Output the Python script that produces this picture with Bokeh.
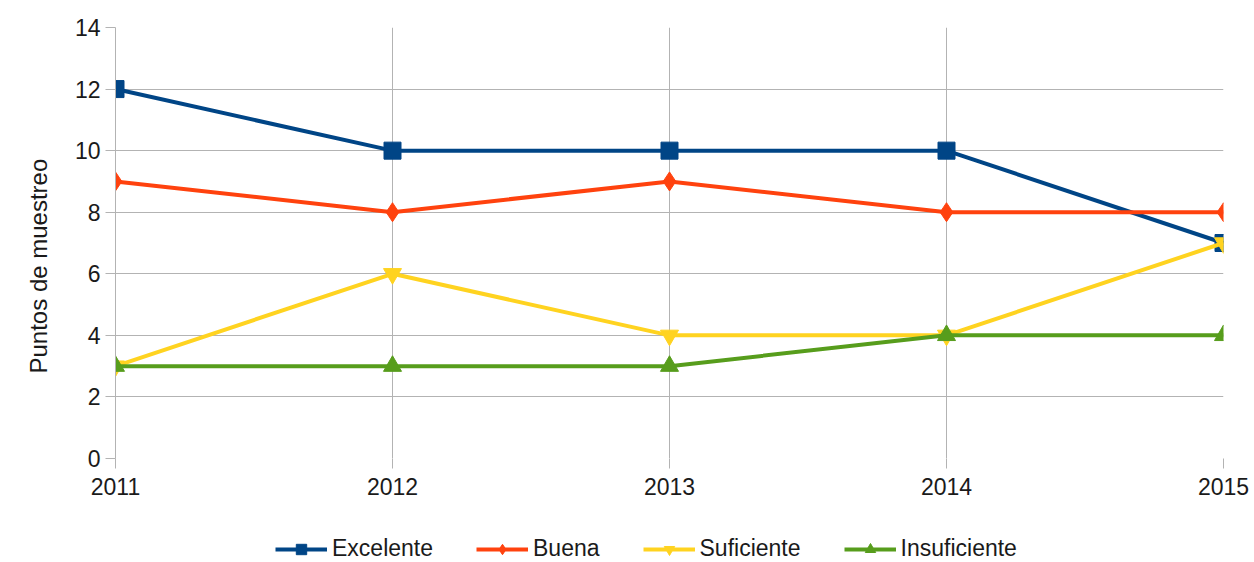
from bokeh.plotting import figure
from bokeh.models import Legend, LegendItem, FixedTicker, Range1d, Title
from bokeh.layouts import column
from bokeh.embed import file_html
from bokeh.resources import INLINE

years = [2011, 2012, 2013, 2014, 2015]
excelente = [12, 10, 10, 10, 7]
buena = [9, 8, 9, 8, 8]
suficiente = [3, 6, 4, 4, 7]
insuficiente = [3, 3, 3, 4, 4]
y_ticks = [0, 2, 4, 6, 8, 10, 12, 14]

FONT = "Liberation Sans"
GRID = "#b3b3b3"
TXT = "#1a1a1a"

p = figure(width=1254, height=530, output_backend="svg", toolbar_location=None,
           x_range=Range1d(2011, 2015), y_range=Range1d(0, 14),
           min_border_left=115, min_border_right=31, min_border_top=27, min_border_bottom=72)
p.outline_line_color = None
p.background_fill_color = "white"

p.xaxis.ticker = FixedTicker(ticks=years)
p.yaxis.ticker = FixedTicker(ticks=y_ticks)
for ax in (p.xaxis[0], p.yaxis[0]):
    ax.axis_line_color = GRID
    ax.major_tick_line_color = GRID
    ax.major_tick_out = 10
    ax.major_tick_in = 0
    ax.minor_tick_line_color = None
    ax.major_label_text_font = FONT
    ax.major_label_text_font_size = "23px"
    ax.major_label_text_color = TXT
p.xaxis.axis_line_color = None
p.xaxis.major_label_standoff = 9
p.yaxis.major_label_standoff = 5

ylab = Title(text="Puntos de muestreo", align="left", offset=85, standoff=36,
             vertical_align="top",
             text_font=FONT, text_font_size="24px", text_font_style="normal",
             text_color=TXT)
p.add_layout(ylab, "left")

p.xgrid.grid_line_color = GRID
p.ygrid.grid_line_color = GRID
p.xgrid.ticker = FixedTicker(ticks=years)
p.ygrid.ticker = FixedTicker(ticks=y_ticks)

series = [
    ("Excelente", excelente, "#004586", "square", 17),
    ("Buena", buena, "#ff420e", "diamond", 19),
    ("Suficiente", suficiente, "#ffd320", "inverted_triangle", 18),
    ("Insuficiente", insuficiente, "#579d1c", "triangle", 18),
]

# legend strip below the chart
lf = figure(width=1254, height=32, output_backend="svg", toolbar_location=None,
            x_range=Range1d(0, 1), y_range=Range1d(0, 1),
            min_border_left=0, min_border_right=0, min_border_top=0, min_border_bottom=0)
lf.axis.visible = False
lf.grid.visible = False
lf.outline_line_color = None

items = []
for name, vals, col, mk, sz in series:
    p.line(years, vals, line_color=col, line_width=4)
    p.scatter(years, vals, marker=mk, size=sz, fill_color=col, line_color=col)
    # same series in the legend strip (outside its visible range) to feed the legend
    l1 = lf.line(years, vals, line_color=col, line_width=4)
    l2 = lf.scatter(years, vals, marker=mk, size=sz, fill_color=col, line_color=col)
    items.append(LegendItem(label=name, renderers=[l1, l2]))

legend = Legend(items=items, orientation="horizontal", location=(160, 0),
                label_text_font=FONT, label_text_font_size="23px", label_text_color=TXT,
                glyph_width=52, glyph_height=26, label_standoff=5, spacing=43,
                border_line_color=None, background_fill_alpha=0, padding=0, margin=0)
lf.add_layout(legend, "center")

layout = column(p, lf, spacing=0)
open("out.html", "w").write(file_html(layout, INLINE))
